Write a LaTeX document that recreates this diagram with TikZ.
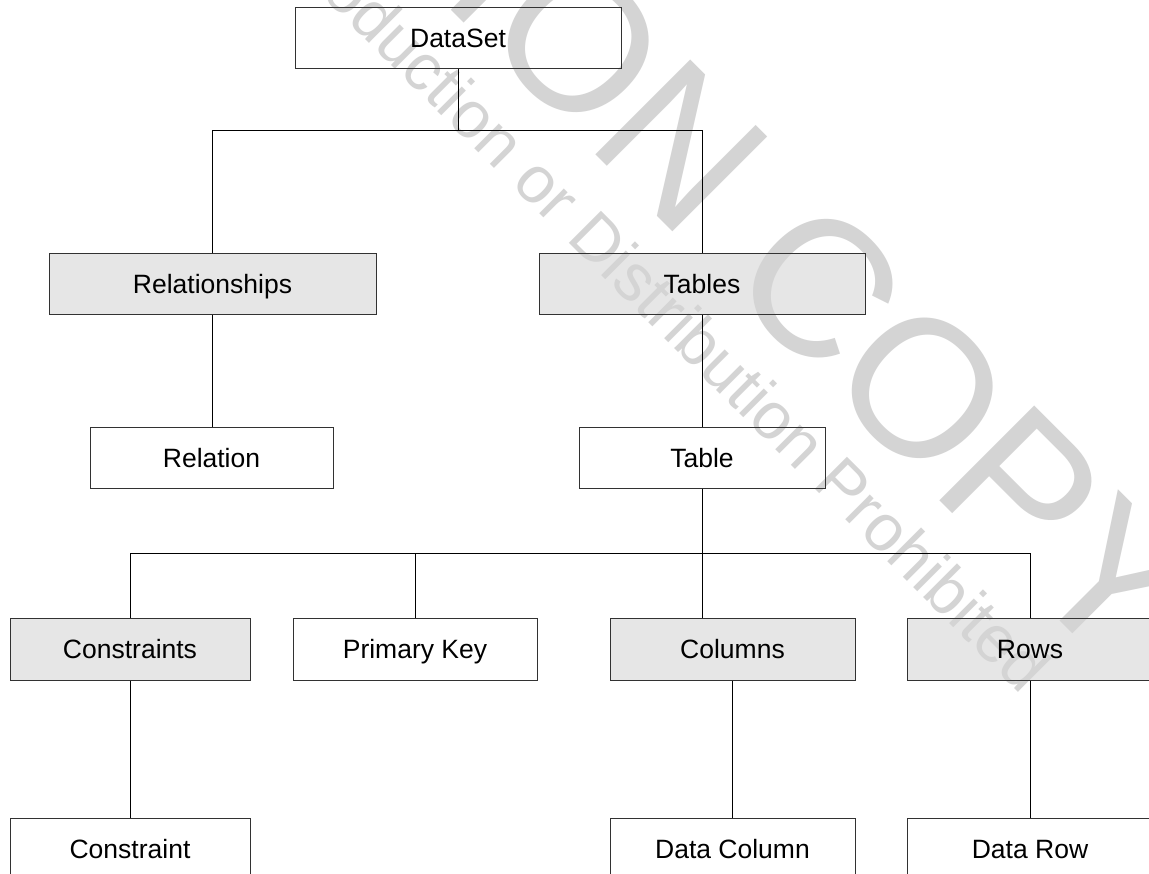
\documentclass[tikz,border=0pt]{standalone}
\usepackage{fontspec}
\setmainfont{Liberation Sans}
\pgfdeclarelayer{fills}
\pgfdeclarelayer{wm}
\pgfsetlayers{fills,wm,main}
\definecolor{boxfill}{RGB}{230,230,230}
\definecolor{wmgray}{RGB}{212,212,212}
\definecolor{boxline}{RGB}{50,50,50}
\begin{document}
\begin{tikzpicture}[x=1pt,y=-1pt,
  box/.style={draw=boxline,line width=1pt,minimum width=#1,minimum height=61pt,inner sep=0pt,
    text height=19pt,text depth=0pt,
    font=\fontsize{26.5}{30}\selectfont},
  conn/.style={draw=black,line width=1pt},
  wmbig/.style={text=wmgray,inner sep=0pt,rotate=-45,font=\fontsize{195}{195}\selectfont},
  wmsmall/.style={text=wmgray,inner sep=0pt,rotate=-45,font=\fontsize{66}{66}\selectfont}]
\useasboundingbox (0,0) rectangle (1149,874);

% nodes
\node[box=326pt] (ds) at (458,38.5) {DataSet};
\node[box=327pt] (rel) at (212.5,284.5) {Relationships};
\node[box=326pt] (tabs) at (702,284.5) {Tables};
\node[box=243pt,minimum height=60pt] (relation) at (211.5,458) {Relation};
\node[box=246pt,minimum height=60pt] (table) at (702,458) {Table};
\node[box=240pt,minimum height=62pt] (constraints) at (130,649) {Constraints};
\node[box=244pt,minimum height=62pt] (pk) at (415,649) {Primary Key};
\node[box=245pt,minimum height=62pt] (columns) at (732.5,649) {Columns};
\node[box=246pt,minimum height=62pt] (rows) at (1030,649) {Rows};
\node[box=240pt,minimum height=62pt] (constraint) at (130,849) {Constraint};
\node[box=245pt,minimum height=62pt] (datacol) at (732.5,849) {Data Column};
\node[box=246pt,minimum height=62pt] (datarow) at (1030,849) {Data Row};

% fills of the grey boxes
\begin{pgfonlayer}{fills}
\fill[white] (0,0) rectangle (1149,874);
\foreach \n in {rel,tabs,constraints,columns,rows}
  \fill[boxfill] (\n.north west) rectangle (\n.south east);
\end{pgfonlayer}

% watermark
\begin{pgfonlayer}{wm}
\begin{scope}
\clip (0,0) rectangle (1149,874);
\node[wmbig,anchor=base east] (wm1) at (684,243) {EVALUATION};
\node[wmbig,anchor=base west] (wm2) at (722,283) {COPY};
\node[wmsmall,anchor=base east] (wm3) at (552,226) {Unauthorized Reproduction or};
\node[wmsmall,anchor=base west] (wm4) at (565,239) {Distribution Prohibited};
\end{scope}
\end{pgfonlayer}

% connectors
\coordinate (h1) at (458,131);
\coordinate (h2) at (702,553);
\draw[conn] (ds.south) -- (h1);
\draw[conn] (rel.north) -- (rel.north |- h1) -- (tabs.north |- h1) -- (tabs.north);
\draw[conn] (rel.south) -- (rel.south |- relation.north);
\draw[conn] (tabs.south) -- (table.north);
\draw[conn] (table.south) -- (h2);
\draw[conn] (constraints.north) -- (constraints.north |- h2) -- (rows.north |- h2) -- (rows.north);
\draw[conn] (pk.north) -- (pk.north |- h2);
\draw[conn] (h2) -- (h2 |- columns.north);
\draw[conn] (constraints.south) -- (constraint.north);
\draw[conn] (columns.south) -- (datacol.north);
\draw[conn] (rows.south) -- (datarow.north);
\end{tikzpicture}
\end{document}
